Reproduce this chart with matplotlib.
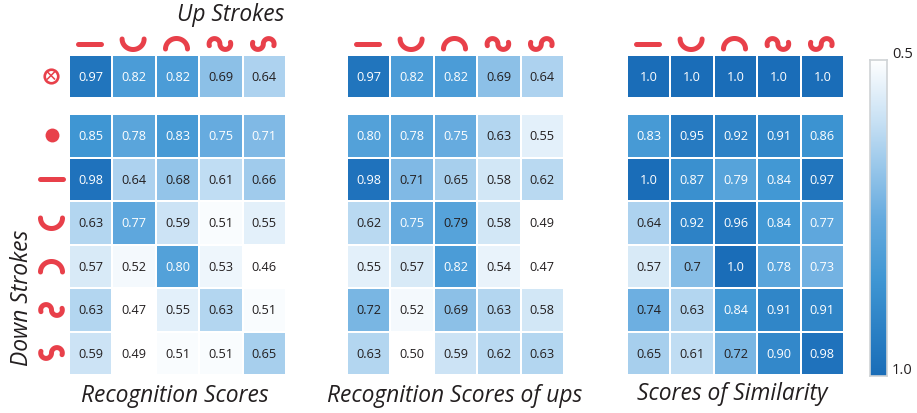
import numpy as np
import matplotlib
matplotlib.use("Agg")
import matplotlib.pyplot as plt
from matplotlib.colors import LinearSegmentedColormap

W, H = 917, 413

titles = ["Recognition Scores", "Recognition Scores of ups", "Scores of Similarity"]
up_label = "Up Strokes"
down_label = "Down Strokes"

top_scores = [0.97, 0.82, 0.82, 0.69, 0.64]
scores = [[0.85, 0.78, 0.83, 0.75, 0.71],
          [0.98, 0.64, 0.68, 0.61, 0.66],
          [0.63, 0.77, 0.59, 0.51, 0.55],
          [0.57, 0.52, 0.80, 0.53, 0.46],
          [0.63, 0.47, 0.55, 0.63, 0.51],
          [0.59, 0.49, 0.51, 0.51, 0.65]]
top_ups = [0.97, 0.82, 0.82, 0.69, 0.64]
ups = [[0.80, 0.78, 0.75, 0.63, 0.55],
       [0.98, 0.71, 0.65, 0.58, 0.62],
       [0.62, 0.75, 0.79, 0.58, 0.49],
       [0.55, 0.57, 0.82, 0.54, 0.47],
       [0.72, 0.52, 0.69, 0.63, 0.58],
       [0.63, 0.50, 0.59, 0.62, 0.63]]
top_sim = [1.0, 1.0, 1.0, 1.0, 1.0]
sim = [[0.83, 0.95, 0.92, 0.91, 0.86],
       [1.0, 0.87, 0.79, 0.84, 0.97],
       [0.64, 0.92, 0.96, 0.84, 0.77],
       [0.57, 0.70, 1.0, 0.78, 0.73],
       [0.74, 0.63, 0.84, 0.91, 0.91],
       [0.65, 0.61, 0.72, 0.90, 0.98]]

panels = [(top_scores, scores), (top_ups, ups), (top_sim, sim)]
panel_left = [69, 347, 627]
PANEL_W = 217
TOP_Y = (55, 97.5)
MAIN_Y = (114, 375)

BLUE = LinearSegmentedColormap.from_list(
    "b", [(0.0, "#ffffff"), (0.2, "#c6e0f4"), (0.5, "#66abdf"),
          (0.7, "#3f96d3"), (1.0, "#1a6db8")])
FONT = "Open Sans"
INK = "#231f20"
RED = "#e8404a"

fig = plt.figure(figsize=(W / 100, H / 100), dpi=100, facecolor="white")


def px_axes(x0, y0, x1, y1):
    return fig.add_axes([x0 / W, 1 - y1 / H, (x1 - x0) / W, (y1 - y0) / H])


DARK_CELLS = {(1, 1, 1), (1, 2, 2)}


def txt_color(v, key):
    if key in DARK_CELLS:
        return INK
    return "white" if (v >= 0.75 or v in (0.71, 0.73)) else INK


def fmt(v):
    return "1.0" if v == 1.0 else f"{v:.2f}"


def heat(ax, rows, panel, labels=None):
    a = np.array(rows)
    ax.pcolormesh(a, cmap=BLUE, vmin=0.5, vmax=1.0, edgecolors="white", linewidth=1.1)
    ax.invert_yaxis()
    ax.axis("off")
    for r in range(a.shape[0]):
        for c in range(a.shape[1]):
            ax.text(c + 0.5, r + 0.52, labels[r][c] if labels else fmt(a[r, c]),
                    ha="center", va="center", fontsize=9.2, family=FONT,
                    color=txt_color(a[r, c], (panel, r, c) if labels else None))


for i, (left, (top, main)) in enumerate(zip(panel_left, panels)):
    ax = px_axes(left, TOP_Y[0], left + PANEL_W, TOP_Y[1])
    heat(ax, [top], i)
    ax = px_axes(left, MAIN_Y[0], left + PANEL_W, MAIN_Y[1])
    lab = [[fmt(v) for v in row] for row in main]
    if i == 2:
        lab[3][1] = "0.7"
    heat(ax, main, i, lab)

# overlay in pixel coordinates for stroke glyphs and titles
ov = fig.add_axes([0, 0, 1, 1], facecolor="none")
ov.set_xlim(0, W)
ov.set_ylim(H, 0)
ov.axis("off")


def wave():
    r = 5.4
    a1 = np.linspace(1.1 * np.pi, 0, 40)
    a2 = np.linspace(np.pi, -0.1 * np.pi, 40)
    x = np.r_[-r + r * np.cos(a1), r + r * np.cos(a2)]
    y = np.r_[-r * np.sin(a1), r * np.sin(a2)]
    return x, y


def glyph(kind, cx, cy):
    t = np.linspace(-1, 1, 60)
    a = np.linspace(np.pi, 0, 60)
    if kind == "line":
        x, y = 11.5 * t, 0 * t
    elif kind == "cup":
        x, y = 11 * np.cos(a), 10.5 * np.sin(a) - 5
    elif kind == "cap":
        x, y = 11 * np.cos(a), -10.5 * np.sin(a) + 5
    elif kind == "tilde":
        x, y = wave()
    else:
        x, y = wave()
        y = -y
    ov.plot(cx + x, cy + y, color=RED, lw=3.6, solid_capstyle="round")


kinds = ["line", "cup", "cap", "tilde", "s"]
for left in panel_left:
    for j, k in enumerate(kinds):
        glyph(k, left + PANEL_W / 5 * (j + 0.5) - 1, 44)

# row glyphs of the first panel
ov.scatter([51], [75.5], s=95, facecolor="white", edgecolor=RED, linewidths=1.9, zorder=3)
ov.plot([47.5, 54.5], [72, 79], color=RED, lw=1.1, zorder=4)
ov.plot([47.5, 54.5], [79, 72], color=RED, lw=1.1, zorder=4)
ov.scatter([52], [135], s=100, color=RED, linewidths=0)
for kind, cy in zip(kinds, [179, 223, 267, 310, 353]):
    glyph(kind, 51.5, cy)

tfont = dict(fontsize=16.4, style="italic", family=FONT, color=INK)
ov.text(175, 396, titles[0], ha="center", va="center", **tfont)
ov.text(455, 396, titles[1], ha="center", va="center", **tfont)
ov.text(732, 394, titles[2], ha="center", va="center", **tfont)
ov.text(231, 15, up_label, ha="center", va="center", **tfont)
ov.text(22, 298, down_label, ha="center", va="center", rotation=90, **tfont)

# colorbar
cax = px_axes(870, 59.5, 887, 376)
grad = np.linspace(0.5, 1.0, 256).reshape(-1, 1)
cax.imshow(grad, cmap=BLUE, vmin=0.5, vmax=1.0, aspect="auto")
cax.set_xticks([])
cax.set_yticks([])
for s in cax.spines.values():
    s.set_color("#cfd3d6")
    s.set_linewidth(1.2)
ov.text(892, 54, "0.5", ha="left", va="center", fontsize=10.5, family=FONT, color=INK)
ov.text(892, 370, "1.0", ha="left", va="center", fontsize=10.5, family=FONT, color=INK)

fig.savefig("out.png", dpi=100, facecolor="white")
